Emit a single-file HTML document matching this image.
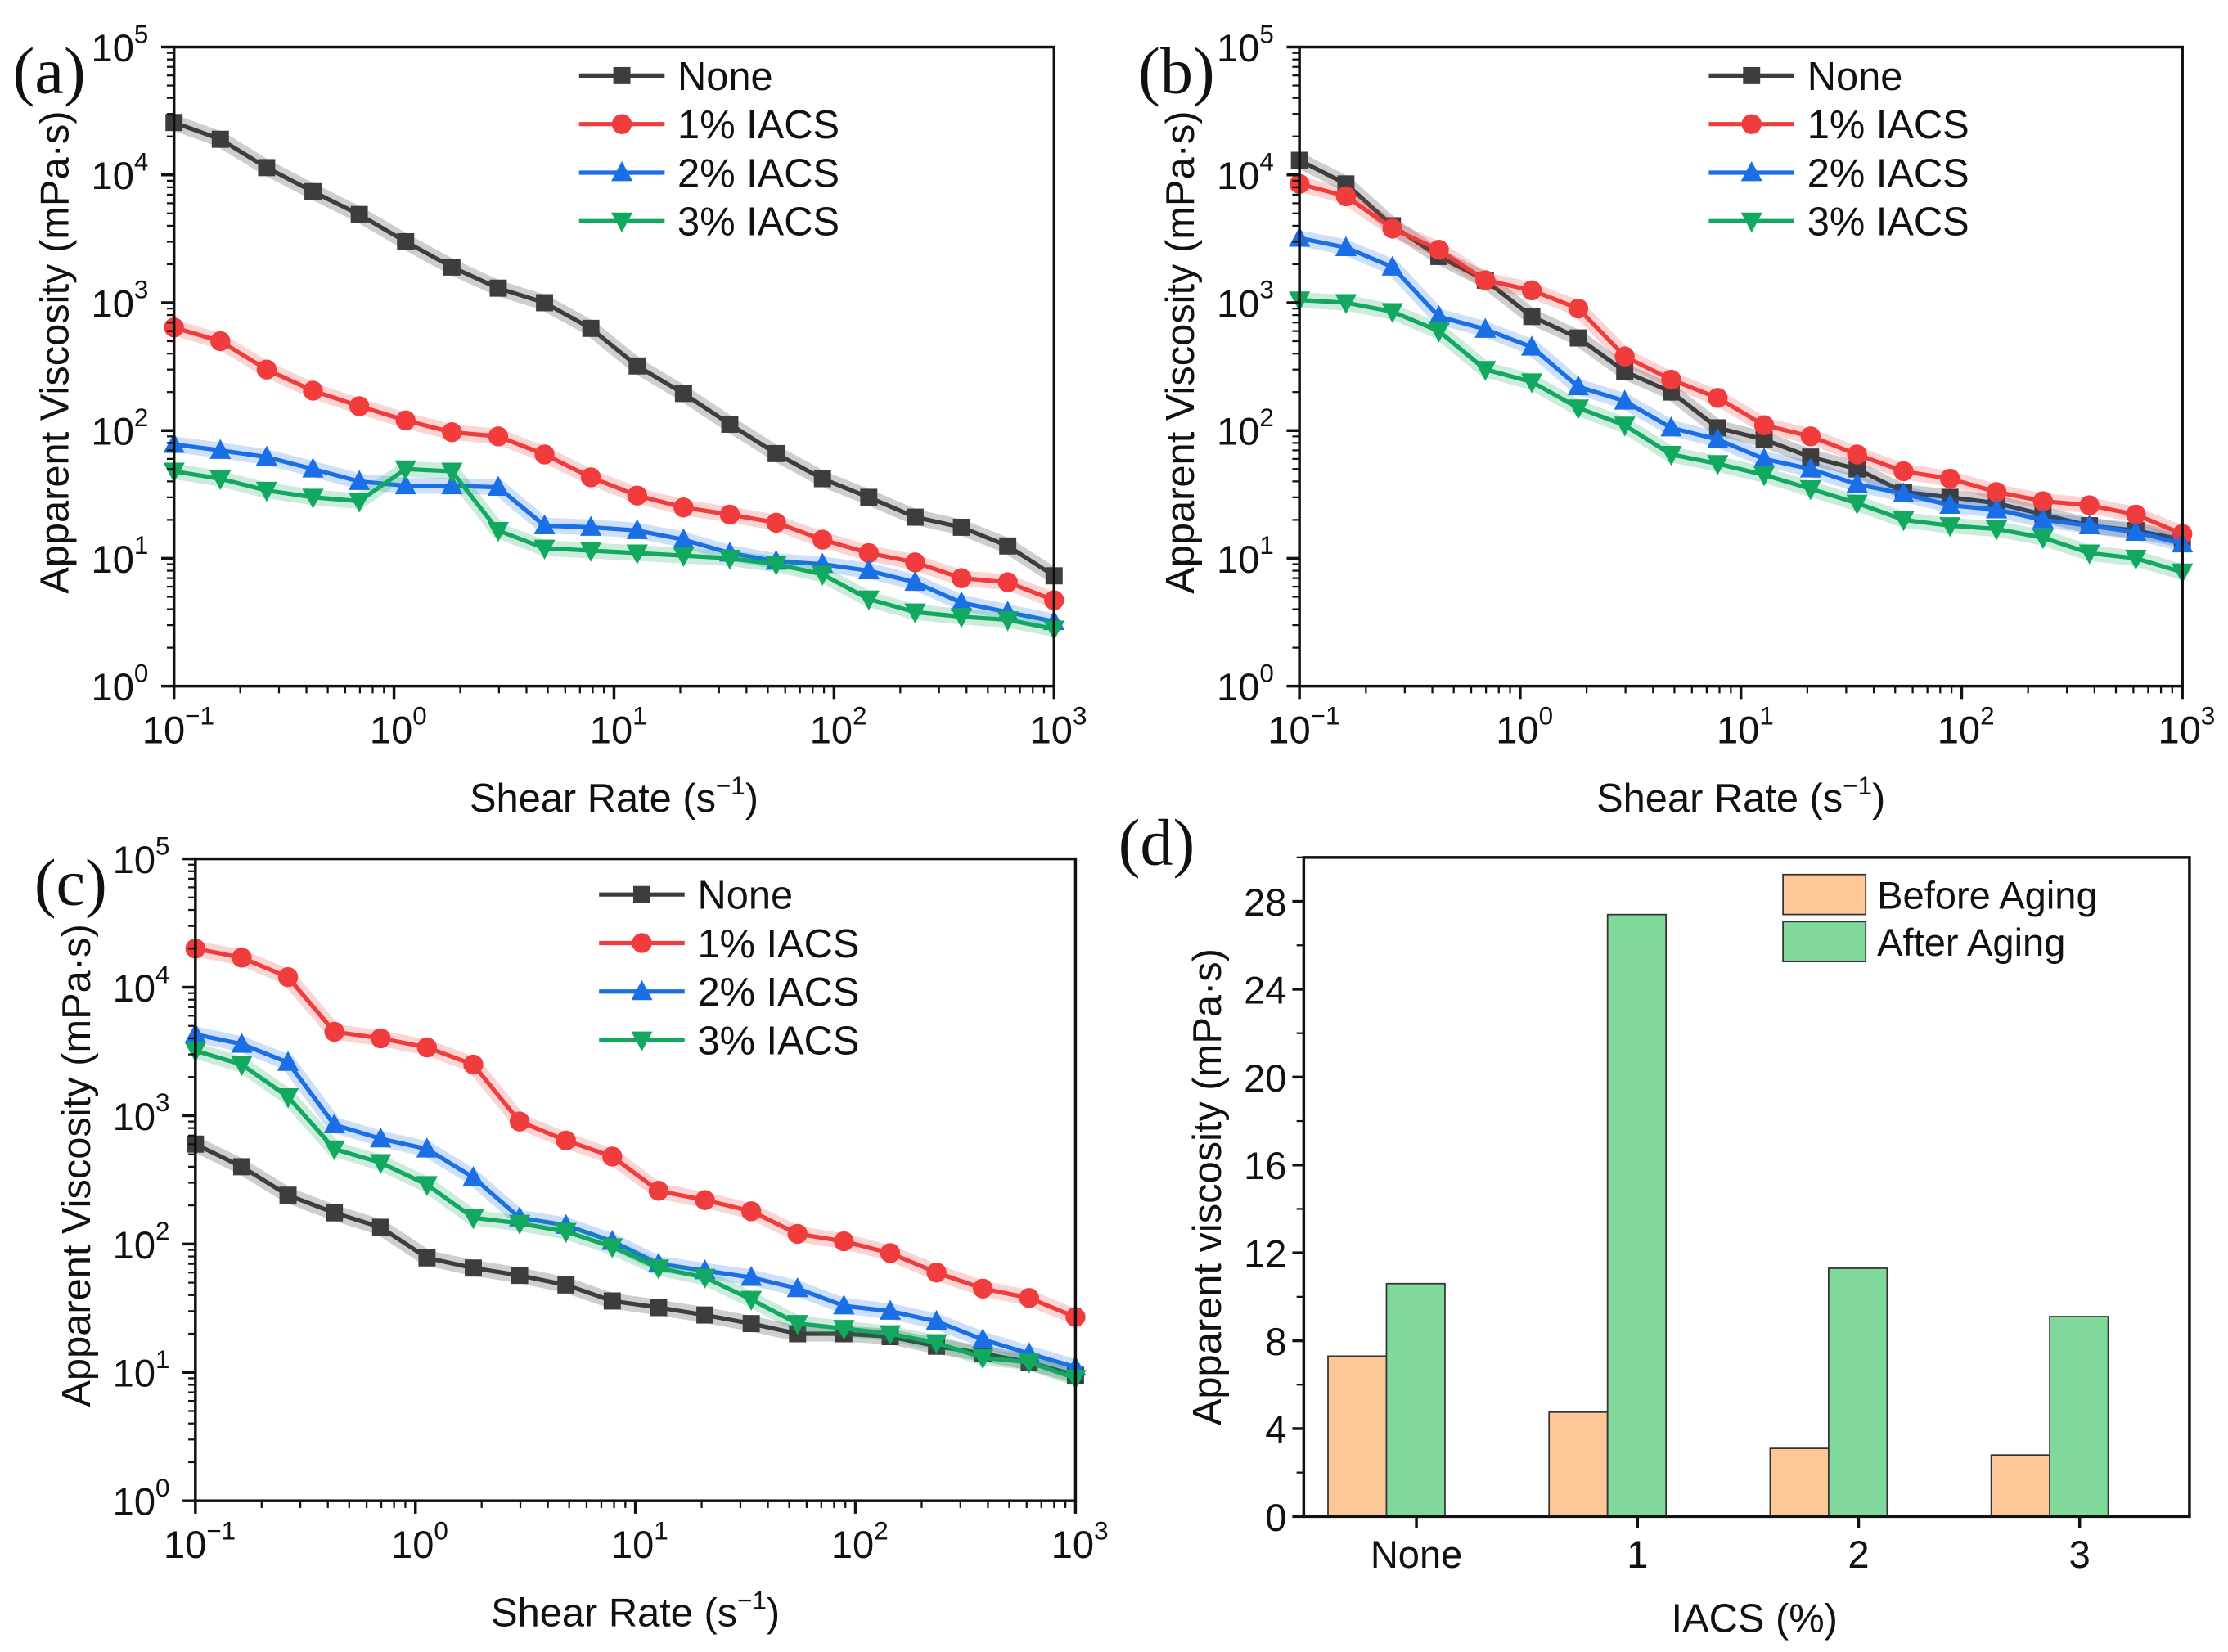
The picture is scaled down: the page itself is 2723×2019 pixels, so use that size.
<!DOCTYPE html>
<html><head><meta charset="utf-8">
<style>
html,body{margin:0;padding:0;background:#fff;}
svg{display:block;}
text{font-family:"Liberation Sans",Arial,sans-serif;fill:#111;}
.serif{font-family:"Liberation Serif","Times New Roman",serif;}
</style></head>
<body>
<svg id="fig" xmlns="http://www.w3.org/2000/svg" width="2723" height="2019" viewBox="0 0 1562 1158" preserveAspectRatio="none">
</svg>
<script>
// ---- data ----
const seriesNames = ["None","1% IACS","2% IACS","3% IACS"];
const nPoints = 20;
const shearRates = Array.from({length:nPoints},(_,i)=>Math.pow(10,-1+4*i/19));
const aNone = [25700,19000,11400,7400,4900,3000,1900,1300,1000,630,320,195,112,66,42,30,21,17.5,12.5,7.3];
const a1 = [640,500,300,205,155,120,97,90,65,43,31,25,22,19,14,11,9.3,7,6.5,4.7];
const a2 = [78,70,62,50,40,37,37,36,18,17.5,16.5,14,11,9.5,9,8,6.5,4.5,3.8,3.2];
const a3 = [48,42,34,30,28,50,48,16.5,12,11.5,11,10.5,10,9,7.5,4.8,3.8,3.5,3.3,2.8];
const bNone = [13000,8500,4000,2300,1500,780,530,290,200,105,85,62,50,33,30,27,22,18,16.5,14];
const b1 = [8500,6800,3800,2600,1500,1250,900,380,250,180,110,90,65,48,42,33,28,26,22,15.5];
const b2 = [3200,2700,1900,780,620,450,220,170,105,85,60,50,38,32,26,24,20,18,16,13];
const b3 = [1050,1000,850,600,300,240,150,110,65,55,45,35,27,20,18,17,14.5,11,10,7.8];
const cNone = [600,400,240,175,135,78,65,57,48,36,32,28,24,20,20,19,16,14,12,9.5];
const c1 = [20000,17000,12000,4500,4000,3400,2500,900,640,480,260,220,180,120,105,85,60,45,38,27];
const c2 = [4300,3600,2600,850,660,550,330,160,140,105,70,62,55,45,33,30,25,18,14,11];
const c3 = [3200,2500,1400,550,430,290,160,145,125,95,65,55,37,24,22,20,17,13,12,9];
const barCategories = ["None","1","2","3"];
const beforeAging = [7.3,4.75,3.1,2.8];
const afterAging = [10.6,27.4,11.3,9.1];
const barTicks = [0,4,8,12,16,20,24,28];
const xDecades = [-1,0,1,2,3];
const yDecades = [0,1,2,3,4,5];

const NS="http://www.w3.org/2000/svg";
const svg=document.getElementById('fig');
function el(tag,attrs,parent,txt){const e=document.createElementNS(NS,tag);for(const k in attrs)e.setAttribute(k,attrs[k]);if(txt!==undefined)e.textContent=txt;(parent||svg).appendChild(e);return e;}

const colors=["#3d3d3d","#f03c3c","#1a6fe6","#12a860"];
const bands=["rgba(60,60,60,0.25)","rgba(240,60,60,0.22)","rgba(26,111,230,0.22)","rgba(18,168,96,0.22)"];
const markers=["square","circle","up","down"];

function marker(g,type,x,y,c,name){
  let m;
  if(type==="square") m=el('rect',{x:x-6,y:y-6,width:12,height:12,fill:c},g);
  else if(type==="circle") m=el('circle',{cx:x,cy:y,r:7,fill:c},g);
  else if(type==="up") m=el('polygon',{points:`${x},${y-8} ${x+7.5},${y+6} ${x-7.5},${y+6}`,fill:c},g);
  else m=el('polygon',{points:`${x},${y+8} ${x+7.5},${y-6} ${x-7.5},${y-6}`,fill:c},g);
  
  
  return m;
}

function logPanel(id,label,L,R,T,B,data,legX,legY){
  const g=el('g',{},svg);
  
  
  const xs=v=>L+(Math.log10(v)+1)/4*(R-L);
  const ys=v=>B-Math.log10(v)/5*(B-T);
  data.forEach((arr,si)=>{
    const pts=arr.map((v,i)=>xs(shearRates[i]).toFixed(1)+','+ys(v).toFixed(1)).join(' ');
    const band=el('polyline',{points:pts,fill:'none',stroke:bands[si],'stroke-width':11,'stroke-linejoin':'round'},g);
    
    
    const ln=el('polyline',{points:pts,fill:'none',stroke:colors[si],'stroke-width':3,'stroke-linejoin':'round'},g);
    
    
    arr.forEach((v,i)=>marker(g,markers[si],xs(shearRates[i]),ys(v),colors[si],'data-point'));
  });
  const fr=el('rect',{x:L,y:T,width:R-L,height:B-T,fill:'none',stroke:'#111','stroke-width':2},g);
  
  
  xDecades.forEach((d,i)=>{
    const x=xs(Math.pow(10,d));
    el('line',{x1:x,y1:B,x2:x,y2:B+9,stroke:'#111','stroke-width':2},g);
    if(i<xDecades.length-1) for(let k=2;k<10;k++){const xm=xs(k*Math.pow(10,d));el('line',{x1:xm,y1:B,x2:xm,y2:B+5,stroke:'#111','stroke-width':1.3},g);}
    const t=el('text',{x:x+3,y:B+40,'font-size':27,'text-anchor':'middle'},g);
    
    
    el('tspan',{},t,'10');el('tspan',{dy:-13,'font-size':18},t,d<0?'\u2212'+(-d):String(d));
  });
  yDecades.forEach((d,i)=>{
    const y=ys(Math.pow(10,d));
    el('line',{x1:L-9,y1:y,x2:L,y2:y,stroke:'#111','stroke-width':2},g);
    if(i<yDecades.length-1) for(let k=2;k<10;k++){const ym=ys(k*Math.pow(10,d));el('line',{x1:L-5,y1:ym,x2:L,y2:ym,stroke:'#111','stroke-width':1.3},g);}
    const t=el('text',{x:L-38,y:y+10,'font-size':27,'text-anchor':'middle'},g);
    
    
    el('tspan',{},t,'10');el('tspan',{dy:-13,'font-size':18},t,String(d));
  });
  const xt=el('text',{x:(L+R)/2,y:B+88,'font-size':28,'text-anchor':'middle'},g);
  
  
  el('tspan',{},xt,'Shear Rate (s');el('tspan',{dy:-12,'font-size':18},xt,'\u22121');el('tspan',{dy:12},xt,')');
  const yt=el('text',{x:0,y:0,'font-size':28,'text-anchor':'middle',transform:`translate(${L-74},${(T+B)/2-10}) rotate(-90)`},g,'Apparent Viscosity (mPa\u00b7s)');
  
  
  const pl=el('text',{x:L-113,y:T+32,'font-size':46,class:'serif'},g,label);
  
  
  seriesNames.forEach((n,si)=>{
    const y=legY+si*34;
    const lg=el('g',{},g);
    
    
    el('line',{x1:legX,y1:y,x2:legX+60,y2:y,stroke:colors[si],'stroke-width':3},lg);
    marker(lg,markers[si],legX+30,y,colors[si],'legend-marker');
    el('text',{x:legX+69,y:y+10,'font-size':28},lg,n);
  });
}

logPanel('a','(a)',122,739,33,481,[aNone,a1,a2,a3],406,53);
logPanel('b','(b)',911,1530,33,481,[bNone,b1,b2,b3],1198,53);
logPanel('c','(c)',137,754,602,1052,[cNone,c1,c2,c3],420,627);

// ---- bar panel (d) ----
(function(){
  const L=914,R=1535,T=601,B=1063;
  const g=el('g',{},svg);
  
  
  const ys=v=>B-v/30*(B-T);
  const cx=i=>993+i*155;
  const bw=41;
  barCategories.forEach((c,i)=>{
    const x=cx(i)-21;
    const b1=el('rect',{x:x-bw,y:ys(beforeAging[i]),width:bw,height:B-ys(beforeAging[i]),fill:'#fdc797',stroke:'#333','stroke-width':1},g);
    
    
    const b2=el('rect',{x:x,y:ys(afterAging[i]),width:bw,height:B-ys(afterAging[i]),fill:'#80d99b',stroke:'#333','stroke-width':1},g);
    
    
    el('line',{x1:cx(i),y1:B,x2:cx(i),y2:B+8,stroke:'#111','stroke-width':2},g);
    const t=el('text',{x:cx(i),y:B+36,'font-size':27,'text-anchor':'middle'},g,c);
    
    
  });
  const fr=el('rect',{x:L,y:T,width:R-L,height:B-T,fill:'none',stroke:'#111','stroke-width':2},g);
  
  
  barTicks.forEach(v=>{
    const y=ys(v);
    el('line',{x1:L-8,y1:y,x2:L,y2:y,stroke:'#111','stroke-width':2},g);
    el('line',{x1:L-5,y1:ys(v+2),x2:L,y2:ys(v+2),stroke:'#111','stroke-width':1.3},g);
    const t=el('text',{x:L-12,y:y+10,'font-size':27,'text-anchor':'end'},g,String(v));
    
    
  });
  const xt=el('text',{x:1230,y:1144,'font-size':28,'text-anchor':'middle'},g,'IACS (%)');
  
  
  const yt=el('text',{x:0,y:0,'font-size':28,'text-anchor':'middle',transform:`translate(868,${(T+B)/2}) rotate(-90)`},g,'Apparent viscosity (mPa\u00b7s)');
  yt.setAttribute('transform', `translate(856,${(T+B)/2}) rotate(-90)`);
  
  
  const pl=el('text',{x:784,y:606,'font-size':46,class:'serif'},g,'(d)');
  
  
  [['Before Aging','#fdc797',613],['After Aging','#80d99b',646]].forEach(([n,c,y])=>{
    const lg=el('g',{},g);
    
    
    el('rect',{x:1250,y:y,width:58,height:28,fill:c,stroke:'#333','stroke-width':1},lg);
    el('text',{x:1316,y:y+24,'font-size':27},lg,n);
  });
})();
</script>
</body></html>
